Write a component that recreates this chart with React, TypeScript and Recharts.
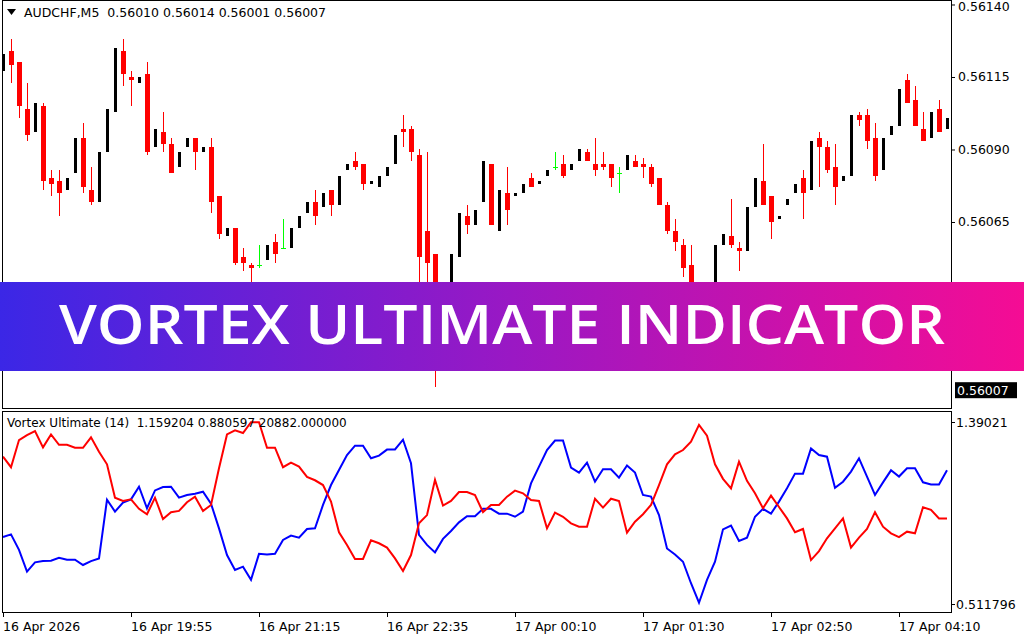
import React from "react";
import { Bar, ComposedChart, Line, XAxis, YAxis } from "recharts";

// AUDCHF M5 candles, one per bar
const OPEN = [
  0.56117, 0.56124, 0.5612, 0.56104, 0.56096, 0.56105, 0.5608, 0.56079, 0.56076, 0.56082,
  0.56094, 0.56076, 0.56072, 0.56089, 0.56103, 0.56124, 0.56115, 0.56113, 0.56116, 0.56091,
  0.56096, 0.56092, 0.56084, 0.56091, 0.56094, 0.56089, 0.56091, 0.56074, 0.5606, 0.56063,
  0.56053, 0.5605, 0.5605, 0.56052, 0.56058, 0.56056, 0.56056, 0.56063, 0.56068, 0.56072,
  0.5607, 0.56076, 0.56071, 0.56083, 0.56086, 0.56085, 0.56078, 0.56077, 0.56081, 0.56085,
  0.56097, 0.56097, 0.56088, 0.56062, 0.56054, 0.56026, 0.56022, 0.56053, 0.56067, 0.56064,
  0.56072, 0.56085, 0.56062, 0.56075, 0.56074, 0.56075, 0.5608, 0.56078, 0.56081, 0.56084,
  0.56085, 0.56083, 0.56086, 0.56089, 0.56085, 0.56085, 0.56085, 0.56082, 0.56083, 0.56086,
  0.56085, 0.56084, 0.5608, 0.56071, 0.56062, 0.56057, 0.5605, 0.56037, 0.56031, 0.56037,
  0.56057, 0.5606, 0.56056, 0.56055, 0.5607, 0.56079, 0.56074, 0.56066, 0.56071, 0.56075,
  0.5608, 0.56076, 0.56094, 0.56091, 0.56084, 0.56079, 0.56081, 0.56102, 0.56102, 0.56094,
  0.56083, 0.56095, 0.56098, 0.56114, 0.56107, 0.56097, 0.56094, 0.56104, 0.56097,
];
const HIGH = [
  0.56123, 0.56128, 0.5612, 0.56113, 0.56106, 0.56106, 0.56083, 0.56083, 0.5608, 0.56094,
  0.56099, 0.56084, 0.56089, 0.56104, 0.56125, 0.56128, 0.56117, 0.56115, 0.5612, 0.56097,
  0.56103, 0.56094, 0.56089, 0.56094, 0.56094, 0.56091, 0.56094, 0.56074, 0.56063, 0.56063,
  0.56056, 0.56051, 0.56057, 0.56057, 0.56061, 0.56066, 0.56063, 0.56067, 0.56072, 0.56076,
  0.56075, 0.56076, 0.56081, 0.56085, 0.56089, 0.56085, 0.56079, 0.56081, 0.56084, 0.56095,
  0.56102, 0.56098, 0.5609, 0.56089, 0.56054, 0.56029, 0.56054, 0.56068, 0.56071, 0.56069,
  0.56086, 0.56085, 0.56076, 0.56084, 0.56075, 0.56078, 0.56082, 0.56079, 0.56083, 0.56089,
  0.56088, 0.56085, 0.5609, 0.5609, 0.56094, 0.56089, 0.56085, 0.56084, 0.56088, 0.56088,
  0.56087, 0.56085, 0.5608, 0.56072, 0.56066, 0.56059, 0.56057, 0.56039, 0.56037, 0.56057,
  0.56061, 0.56073, 0.56058, 0.5607, 0.5608, 0.56092, 0.56074, 0.56067, 0.56073, 0.56078,
  0.56083, 0.56093, 0.56096, 0.56093, 0.56092, 0.56081, 0.56102, 0.56103, 0.56104, 0.56099,
  0.56094, 0.56098, 0.56111, 0.56116, 0.56112, 0.56103, 0.56103, 0.56107, 0.56101,
];
const LOW = [
  0.56117, 0.56113, 0.56101, 0.56093, 0.56096, 0.56076, 0.56074, 0.56067, 0.56076, 0.56082,
  0.56075, 0.56071, 0.56072, 0.56089, 0.56103, 0.56112, 0.56105, 0.56113, 0.56088, 0.56091,
  0.56089, 0.56082, 0.56084, 0.56091, 0.56083, 0.56089, 0.56068, 0.56059, 0.5606, 0.5605,
  0.56048, 0.56043, 0.56049, 0.56052, 0.56051, 0.56056, 0.56056, 0.56063, 0.56068, 0.56064,
  0.5607, 0.56067, 0.56071, 0.56083, 0.56083, 0.56076, 0.56078, 0.56077, 0.56081, 0.56085,
  0.56091, 0.56086, 0.56038, 0.56035, 0.56008, 0.56017, 0.56022, 0.56053, 0.56061, 0.56064,
  0.56072, 0.56064, 0.56062, 0.56064, 0.56074, 0.56075, 0.56077, 0.56078, 0.56081, 0.56083,
  0.5608, 0.56083, 0.56086, 0.56086, 0.56081, 0.56083, 0.56077, 0.56075, 0.56083, 0.56084,
  0.5608, 0.56077, 0.56071, 0.56061, 0.56055, 0.56046, 0.56036, 0.56029, 0.56031, 0.56037,
  0.56057, 0.56056, 0.56048, 0.56055, 0.5607, 0.56071, 0.56059, 0.56066, 0.56071, 0.56075,
  0.56066, 0.56076, 0.56077, 0.56082, 0.56071, 0.56079, 0.56081, 0.56098, 0.5609, 0.56079,
  0.56083, 0.56095, 0.56098, 0.56106, 0.56098, 0.56093, 0.56094, 0.56096, 0.56097,
];
const CLOSE = [
  0.56123, 0.56119, 0.56105, 0.56095, 0.56106, 0.56079, 0.56078, 0.56075, 0.5608, 0.56094,
  0.56077, 0.56072, 0.56089, 0.56104, 0.56125, 0.56116, 0.56114, 0.56115, 0.56089, 0.56097,
  0.56092, 0.56082, 0.56089, 0.56094, 0.56089, 0.56091, 0.56072, 0.56061, 0.56063, 0.56051,
  0.56051, 0.56049, 0.5605, 0.56057, 0.56054, 0.56056, 0.56063, 0.56067, 0.56072, 0.56067,
  0.56075, 0.56071, 0.56081, 0.56085, 0.56084, 0.56078, 0.56079, 0.56081, 0.56084, 0.56095,
  0.56096, 0.56089, 0.56053, 0.56051, 0.56025, 0.56021, 0.56054, 0.56068, 0.56064, 0.56069,
  0.56086, 0.56064, 0.56076, 0.56069, 0.56075, 0.56078, 0.56077, 0.56079, 0.56083, 0.56084,
  0.56081, 0.56085, 0.5609, 0.56086, 0.56083, 0.56084, 0.5608, 0.56082, 0.56088, 0.56084,
  0.56084, 0.56078, 0.56071, 0.56062, 0.56058, 0.56049, 0.56038, 0.56031, 0.56037, 0.56057,
  0.56061, 0.56057, 0.56055, 0.5607, 0.5608, 0.56071, 0.56065, 0.56067, 0.56073, 0.56078,
  0.56075, 0.56093, 0.56091, 0.56083, 0.56077, 0.56081, 0.56102, 0.561, 0.56093, 0.56081,
  0.56094, 0.56098, 0.56111, 0.56106, 0.56098, 0.56093, 0.56103, 0.56096, 0.56101,
];

// Vortex Ultimate (14): VI+ (blue) and VI- (red)
const VI_PLUS = [
  0.835, 0.848, 0.773, 0.668, 0.713, 0.719, 0.721, 0.735, 0.726, 0.726,
  0.7, 0.719, 0.732, 1.015, 0.958, 1.001, 1.017, 1.078, 0.974, 1.06,
  1.076, 1.078, 1.025, 1.038, 1.044, 1.054, 0.996, 0.877, 0.748, 0.676,
  0.692, 0.629, 0.754, 0.751, 0.754, 0.821, 0.842, 0.832, 0.874, 0.877,
  0.99, 1.086, 1.159, 1.231, 1.276, 1.276, 1.215, 1.228, 1.257, 1.258,
  1.305, 1.191, 0.845, 0.797, 0.761, 0.826, 0.864, 0.906, 0.935, 0.935,
  0.971, 0.971, 0.948, 0.948, 0.933, 0.958, 1.094, 1.175, 1.255, 1.301,
  1.301, 1.17, 1.146, 1.194, 1.102, 1.162, 1.162, 1.122, 1.18, 1.146,
  1.038, 1.03, 0.941, 0.78, 0.751, 0.716, 0.612, 0.518, 0.628, 0.716,
  0.872, 0.89, 0.816, 0.832, 0.933, 0.971, 0.948, 1.006, 1.07, 1.141,
  1.141, 1.263, 1.231, 1.223, 1.073, 1.102, 1.151, 1.215, 1.127, 1.038,
  1.099, 1.157, 1.127, 1.167, 1.167, 1.099, 1.089, 1.089, 1.157,
];
const VI_MINUS = [
  1.223, 1.172, 1.303, 1.327, 1.346, 1.268, 1.33, 1.28, 1.28, 1.266,
  1.266, 1.316, 1.247, 1.186, 1.025, 1.009, 1.017, 0.971, 0.945, 1.025,
  0.922, 0.955, 0.961, 1.003, 1.03, 0.961, 0.99, 1.167, 1.33, 1.35,
  1.337, 1.389, 1.389, 1.266, 1.266, 1.172, 1.194, 1.175, 1.125, 1.109,
  1.086, 1.006, 0.858, 0.797, 0.729, 0.729, 0.819, 0.805, 0.784, 0.732,
  0.671, 0.748, 0.901, 0.941, 1.111, 0.987, 1.009, 1.052, 1.052, 1.038,
  0.955, 0.99, 0.99, 1.03, 1.059, 1.046, 1.014, 1.009, 0.877, 0.953,
  0.933, 0.901, 0.885, 0.885, 1.02, 0.977, 1.02, 1.009, 0.856, 0.909,
  0.945, 0.99, 1.086, 1.186, 1.234, 1.255, 1.295, 1.376, 1.324, 1.186,
  1.116, 1.07, 1.199, 1.106, 1.046, 0.974, 1.035, 0.98, 0.925, 0.858,
  0.874, 0.724, 0.767, 0.829, 0.877, 0.925, 0.784, 0.832, 0.874, 0.955,
  0.885, 0.853, 0.835, 0.861, 0.853, 0.979, 0.966, 0.925, 0.925,
];

const TIME_TICKS = [0, 16, 32, 48, 64, 80, 96, 112];
const TIME_LABELS = [
  "16 Apr 2026",
  "16 Apr 19:55",
  "16 Apr 21:15",
  "16 Apr 22:35",
  "17 Apr 00:10",
  "17 Apr 01:30",
  "17 Apr 02:50",
  "17 Apr 04:10",
];
const PRICE_TICKS = [0.56065, 0.5609, 0.56115, 0.5614];
const LAST_PRICE = 0.56007;
const VI_TICKS = [0.511796, 1.39021];
const VI_TICK_LABELS = ["0.511796", "1.39021"];

const candles = OPEN.map((open, i) => ({
  i,
  open,
  high: HIGH[i],
  low: LOW[i],
  close: CLOSE[i],
  range: [LOW[i], HIGH[i]],
}));
const vortex = VI_PLUS.map((plus, i) => ({ i, plus, minus: VI_MINUS[i] }));

const FONT = "DejaVu Sans";

function Candle(props: any) {
  const { x, y, width, height, payload } = props;
  const { open, high, low, close } = payload;
  const cx = Math.round(x + width / 2);
  const span = high - low;
  const toY = (v: number) => (span === 0 ? y : y + ((high - v) / span) * height);
  const yo = toY(open);
  const yc = toY(close);
  if (close > open) {
    return (
      <rect x={cx - 1} y={yc} width={3} height={Math.max(1, yo - yc)} fill="#000" shapeRendering="crispEdges" />
    );
  }
  if (close < open) {
    return (
      <g shapeRendering="crispEdges">
        <line x1={cx + 0.5} x2={cx + 0.5} y1={y} y2={y + height} stroke="#ff0000" />
        <rect x={cx - 2} y={yo} width={5} height={Math.max(1, yc - yo)} fill="#ff0000" />
      </g>
    );
  }
  // doji: open == close
  return (
    <g shapeRendering="crispEdges">
      <rect x={cx} y={y} width={1} height={Math.max(1, height)} fill="#00ff00" />
      <rect x={cx - 2} y={Math.round(yo)} width={5} height={1} fill="#00ff00" />
    </g>
  );
}

function PriceTick({ x, y, payload }: any) {
  const v = payload.value;
  if (v === LAST_PRICE) {
    return (
      <g>
        <rect x={x + 4} y={y - 8} width={62} height={16} fill="#000" />
        <text x={x + 6} y={y} dy="0.36em" fill="#fff" fontFamily={FONT} fontSize={12.5}>
          {v.toFixed(5)}
        </text>
      </g>
    );
  }
  return (
    <g>
      <line x1={x} x2={x + 4} y1={y + 0.5} y2={y + 0.5} stroke="#000" />
      <text x={x + 7} y={Math.max(y, 6)} dy="0.36em" fill="#000" fontFamily={FONT} fontSize={12.5}>
        {v.toFixed(5)}
      </text>
    </g>
  );
}

function ViTick({ x, y, payload }: any) {
  const idx = VI_TICKS.indexOf(payload.value);
  return (
    <g>
      <line x1={x} x2={x + 4} y1={y + 0.5} y2={y + 0.5} stroke="#000" />
      <text x={x + 5} y={y} dy="0.36em" fill="#000" fontFamily={FONT} fontSize={12.5}>
        {VI_TICK_LABELS[idx]}
      </text>
    </g>
  );
}

function TimeTick({ x, y, payload }: any) {
  const idx = TIME_TICKS.indexOf(payload.value);
  return (
    <g>
      <line x1={x + 0.5} x2={x + 0.5} y1={y} y2={y + 5} stroke="#000" />
      <text x={x} y={y + 19} fill="#000" fontFamily={FONT} fontSize={12.5}>
        {TIME_LABELS[idx]}
      </text>
    </g>
  );
}

export default function App() {
  return (
    <div
      style={{
        position: "absolute",
        left: 0,
        top: 0,
        width: 1024,
        height: 640,
        background: "#fff",
        overflow: "hidden",
        fontFamily: FONT,
      }}
    >
      <div style={{ position: "absolute", left: 0, top: 0 }}>
        <ComposedChart width={1024} height={409} data={candles} margin={{ top: 0, right: 0, bottom: 1, left: -1 }}>
          <XAxis dataKey="i" hide />
          <YAxis
            orientation="right"
            width={73}
            domain={[0.5600086, 0.5614155]}
            allowDataOverflow
            ticks={[...PRICE_TICKS, LAST_PRICE]}
            interval={0}
            axisLine={false}
            tickLine={false}
            tickSize={0}
            tickMargin={0}
            tick={PriceTick}
          />
          <Bar dataKey="range" shape={(p: any) => <Candle {...p} />} isAnimationActive={false} />
        </ComposedChart>
      </div>

      <div style={{ position: "absolute", left: 0, top: 411 }}>
        <ComposedChart width={1024} height={229} data={vortex} margin={{ top: 1, right: 0, bottom: 0, left: -1 }}>
          <XAxis
            dataKey="i"
            scale="band"
            ticks={TIME_TICKS}
            interval={0}
            height={28}
            axisLine={false}
            tickLine={false}
            tickSize={0}
            tickMargin={0}
            tick={TimeTick}
          />
          <YAxis
            orientation="right"
            width={73}
            domain={[0.47327, 1.43847]}
            allowDataOverflow
            ticks={VI_TICKS}
            interval={0}
            axisLine={false}
            tickLine={false}
            tickSize={0}
            tickMargin={0}
            tick={ViTick}
          />
          <Line dataKey="plus" stroke="#0000ff" strokeWidth={2} dot={false} isAnimationActive={false} />
          <Line dataKey="minus" stroke="#ff0000" strokeWidth={2} dot={false} isAnimationActive={false} />
        </ComposedChart>
      </div>

      {/* panel frames */}
      <div
        style={{
          position: "absolute",
          left: 2,
          top: 0,
          width: 950,
          height: 409,
          border: "1px solid #000",
          boxSizing: "border-box",
          pointerEvents: "none",
        }}
      />
      <div
        style={{
          position: "absolute",
          left: 2,
          top: 411,
          width: 950,
          height: 202,
          border: "1px solid #000",
          boxSizing: "border-box",
          pointerEvents: "none",
        }}
      />

      {/* window headers */}
      <svg style={{ position: "absolute", left: 0, top: 0 }} width={400} height={24}>
        <polygon points="7,9 16,9 11.5,15" fill="#000" />
        <text x={24} y={17} fontFamily={FONT} fontSize={12.5} fill="#000" xmlSpace="preserve" style={{ whiteSpace: "pre" }}>
          {"AUDCHF,M5  0.56010 0.56014 0.56001 0.56007"}
        </text>
      </svg>
      <svg style={{ position: "absolute", left: 0, top: 413 }} width={420} height={20}>
        <text x={7} y={14} fontFamily={FONT} fontSize={12} fill="#000" xmlSpace="preserve" style={{ whiteSpace: "pre" }}>
          {"Vortex Ultimate (14)  1.159204 0.880597 20882.000000"}
        </text>
      </svg>

      {/* banner */}
      <div
        style={{
          position: "absolute",
          left: 0,
          top: 282,
          width: 1024,
          height: 89,
          background: "linear-gradient(90deg, #3b27e6 0%, #9a18c4 50%, #f50c94 100%)",
        }}
      >
        <svg width={1024} height={89}>
          <text
            x={59}
            y={62}
            textLength={886}
            lengthAdjust="spacingAndGlyphs"
            fontFamily="Open Sans"
            fontWeight={600}
            fontSize={55}
            fill="#fff"
          >
            VORTEX ULTIMATE INDICATOR
          </text>
        </svg>
      </div>
    </div>
  );
}
